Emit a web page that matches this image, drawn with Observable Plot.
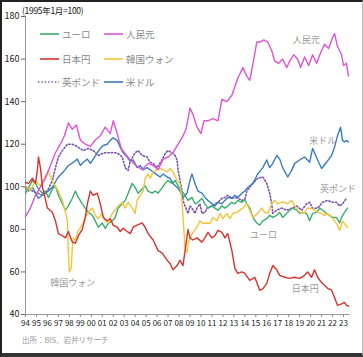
<!DOCTYPE html>
<html><head><meta charset="utf-8">
<script src="https://cdn.jsdelivr.net/npm/d3@7"></script>
<script src="https://cdn.jsdelivr.net/npm/@observablehq/plot@0.6"></script>
<style>
body{margin:0;background:#fff;font-family:"Noto Sans CJK JP","Noto Sans",sans-serif;}
#wrap{position:relative;width:363px;height:357px;overflow:hidden;background:#fff;}
#wrap svg.plot{position:absolute;left:0;top:0;}
.frame{position:absolute;left:0;top:0;width:363px;height:357px;box-sizing:border-box;border-left:2px solid #222;border-top:2px solid #222;border-bottom:4px solid #333;border-right:1px solid #bbb;pointer-events:none;}
.title{position:absolute;left:22px;top:4px;font-size:8.5px;color:#111;letter-spacing:-0.3px;}
.caption{position:absolute;left:22px;top:334px;font-size:7.5px;color:#999;}
.leg{position:absolute;left:0;top:0;pointer-events:none;}
</style></head>
<body>
<div id="wrap">
  <div class="title">(1995年1月=100)</div>
  <div class="caption">出所：BIS、岩井リサーチ</div>
</div>
<script>
// ---- data (decimal year, index 1995/1=100) ----
const euro = [[1994.00,97],[1994.27,99.5],[1994.64,103],[1994.91,101.6],[1995.18,99],[1995.55,97],[1995.82,98],[1996.09,95],[1996.45,99],[1996.73,100.5],[1997.00,96],[1997.36,92],[1997.64,89],[1997.91,91],[1998.27,94.6],[1998.55,98],[1998.82,95],[1999.18,92],[1999.45,90],[1999.73,88],[2000.09,86.6],[2000.36,84],[2000.64,81],[2001.00,83],[2001.27,80.5],[2001.55,82.8],[2001.91,84],[2002.18,85.6],[2002.45,90],[2002.82,92],[2003.09,93.6],[2003.36,97],[2003.73,101.6],[2004.00,99.7],[2004.27,97],[2004.64,99],[2004.91,100.5],[2005.18,98],[2005.55,97],[2005.82,98],[2006.09,97],[2006.45,99.5],[2006.73,101.6],[2007.00,103],[2007.36,101.6],[2007.64,103],[2007.91,100.5],[2008.27,98],[2008.55,96],[2008.82,93.6],[2009.18,95],[2009.45,92],[2009.73,92.7],[2010.09,94.6],[2010.36,92],[2010.64,90],[2011.00,91],[2011.27,90],[2011.55,89],[2011.91,91],[2012.18,90],[2012.45,91],[2012.82,92.7],[2013.09,92],[2013.36,93.6],[2013.73,92.7],[2014.00,94],[2014.18,92],[2014.45,90],[2014.73,85.6],[2015.09,83],[2015.36,82],[2015.64,84],[2016.00,85],[2016.27,86.6],[2016.55,85.6],[2016.91,86.6],[2017.18,88],[2017.45,85.6],[2017.82,87.5],[2018.09,89],[2018.36,90],[2018.73,89],[2019.00,87.5],[2019.27,88],[2019.64,87.5],[2019.91,84],[2020.18,87.5],[2020.55,88],[2020.82,90],[2021.09,89],[2021.45,87.5],[2021.73,86.6],[2022.00,85.6],[2022.36,85.6],[2022.64,83],[2022.82,85.6],[2023.09,88],[2023.36,90]];
const cny = [[1994.00,86],[1994.45,90],[1994.91,96],[1995.36,100],[1995.82,104],[1996.27,110],[1996.73,116],[1997.18,120],[1997.55,124],[1997.91,130],[1998.27,127],[1998.64,129],[1999.00,122],[1999.45,120],[1999.91,119],[2000.36,122],[2000.82,124],[2001.27,128],[2001.73,125],[2002.00,131],[2002.36,125],[2002.73,118],[2003.18,115],[2003.64,112],[2004.09,110],[2004.64,108],[2005.18,111],[2005.64,110],[2006.09,108],[2006.55,113],[2007.00,114],[2007.45,116],[2007.91,120],[2008.27,123],[2008.64,127],[2009.00,137],[2009.27,134],[2009.64,128],[2010.00,125],[2010.27,131],[2010.64,131],[2011.09,132],[2011.55,131],[2011.91,141],[2012.36,140],[2012.82,143],[2013.36,151],[2013.82,156],[2014.18,152],[2014.45,150],[2014.82,160],[2015.09,168],[2015.36,168],[2015.73,169],[2016.09,168],[2016.45,164],[2016.73,159],[2017.09,158],[2017.45,160],[2017.82,156],[2018.09,159],[2018.45,162],[2018.82,160],[2019.09,156],[2019.45,161],[2019.82,157],[2020.18,162],[2020.55,158],[2020.91,163],[2021.27,167],[2021.64,165],[2022.00,170],[2022.18,172],[2022.45,166],[2022.82,162],[2023.00,157],[2023.27,158],[2023.45,152]];
const yen = [[1994.00,102],[1994.27,101.6],[1994.64,104],[1994.91,101.6],[1995.09,108],[1995.18,114],[1995.36,109],[1995.55,99.5],[1995.64,98],[1996.00,90],[1996.45,88],[1996.73,84],[1997.00,78],[1997.36,77],[1997.64,76],[1997.91,79],[1998.27,74],[1998.55,73.5],[1998.82,77],[1999.18,80],[1999.45,85.6],[1999.64,92],[1999.91,98],[2000.18,96],[2000.55,97],[2000.82,92],[2001.09,85.6],[2001.45,84],[2001.73,85],[2002.00,82],[2002.36,81],[2002.64,79],[2002.91,80.5],[2003.27,79],[2003.55,78],[2003.82,81],[2004.18,82],[2004.64,83],[2004.91,81],[2005.18,78],[2005.64,75],[2006.09,70],[2006.45,69],[2006.91,65.5],[2007.18,64],[2007.45,61],[2007.82,63],[2008.09,65.5],[2008.36,63],[2008.55,70],[2008.82,80],[2009.00,76],[2009.27,75],[2009.64,76],[2010.09,74],[2010.36,76],[2010.64,78.6],[2011.00,76],[2011.27,77],[2011.55,79.5],[2011.91,78.6],[2012.18,76],[2012.45,78],[2012.82,70],[2013.09,61.7],[2013.36,59.3],[2013.73,60],[2014.00,59.3],[2014.45,56],[2014.91,57.5],[2015.36,51.4],[2015.64,52],[2016.00,54.6],[2016.27,59.3],[2016.55,63],[2016.91,61],[2017.18,58.4],[2017.64,57.5],[2018.09,57],[2018.55,57.5],[2019.00,57],[2019.45,58.4],[2019.73,60],[2020.09,57.5],[2020.36,61],[2020.64,57.5],[2021.00,55],[2021.27,53.7],[2021.55,52.3],[2021.91,51.4],[2022.18,48],[2022.45,44.3],[2022.82,45],[2023.09,45.7],[2023.27,44.3],[2023.45,44]];
const won = [[1994.00,100.5],[1994.45,98],[1994.91,103],[1995.36,100.5],[1995.82,105],[1996.09,107.7],[1996.27,105],[1996.55,101.6],[1997.00,98],[1997.36,93.6],[1997.64,88],[1997.82,84],[1997.91,69],[1998.00,60],[1998.18,62],[1998.27,71.5],[1998.36,76],[1998.55,75],[1998.82,79.5],[1999.18,82],[1999.45,85.6],[1999.73,88],[2000.09,90],[2000.36,86.6],[2000.64,85],[2001.00,87.5],[2001.27,84],[2001.55,83],[2001.91,87.5],[2002.18,89],[2002.45,91],[2002.82,92.7],[2003.09,90],[2003.36,92.7],[2003.73,90],[2004.00,87.5],[2004.18,93.6],[2004.45,96],[2004.73,98],[2004.91,104],[2005.18,106],[2005.36,104],[2005.64,107],[2006.00,108],[2006.27,108.6],[2006.55,108],[2006.91,107],[2007.18,108.6],[2007.45,107],[2007.82,103],[2008.09,101.6],[2008.27,93.6],[2008.36,86],[2008.55,71.5],[2008.73,69],[2008.82,73.5],[2009.00,76],[2009.27,78.6],[2009.64,81],[2009.91,84],[2010.18,82.8],[2010.55,83],[2010.82,82.8],[2011.09,85.6],[2011.45,84],[2011.73,87.5],[2012.00,85],[2012.36,87.5],[2012.64,85],[2012.91,87.5],[2013.27,88],[2013.55,89],[2013.82,90],[2014.18,92],[2014.45,89],[2014.73,85.6],[2015.18,87.5],[2015.55,90],[2015.82,88],[2016.09,87.5],[2016.45,92],[2016.73,93.6],[2017.00,92],[2017.36,92.7],[2017.64,92.7],[2017.91,92],[2018.27,93.6],[2018.55,91],[2018.82,89],[2019.18,87.5],[2019.45,88],[2019.73,90],[2020.09,89.9],[2020.36,89],[2020.64,88],[2021.00,87.5],[2021.27,86.6],[2021.55,87.5],[2021.91,85.6],[2022.18,84],[2022.45,82],[2022.64,79.5],[2022.82,82],[2022.91,84],[2023.18,82],[2023.36,81]];
const gbp = [[1994.00,99.7],[1994.64,98],[1995.09,97],[1995.55,96],[1995.82,97],[1996.09,99],[1996.45,103],[1996.73,109],[1997.00,114],[1997.36,117],[1997.82,120],[1998.27,120],[1998.55,119.4],[1998.82,118.5],[1999.27,117],[1999.73,118],[2000.18,117],[2000.64,114.7],[2001.00,115.6],[2001.27,116],[2001.55,116],[2001.91,116],[2002.18,116],[2002.45,115.6],[2002.82,114],[2003.09,109],[2003.36,107.7],[2003.55,112],[2004.00,116],[2004.27,117],[2004.64,114.7],[2005.09,114],[2005.36,111.5],[2005.64,111],[2006.00,109],[2006.45,112.6],[2006.73,115.6],[2007.00,117],[2007.36,116],[2007.64,114.7],[2007.82,112.6],[2007.91,108],[2008.09,103],[2008.27,98],[2008.36,93.6],[2008.55,91],[2008.82,87.5],[2009.00,91],[2009.18,90],[2009.45,87.5],[2009.64,90],[2009.91,92],[2010.09,87.5],[2010.36,88],[2010.55,89.9],[2011.00,91],[2011.27,92],[2011.55,92.7],[2011.91,94.6],[2012.18,95],[2012.45,96],[2012.82,94.6],[2013.09,95],[2013.36,94.6],[2013.73,93.6],[2014.00,94],[2014.18,98],[2014.73,101.6],[2015.18,104],[2015.64,104.6],[2016.00,101.6],[2016.27,97],[2016.45,92],[2016.55,87.5],[2016.91,89],[2017.36,90],[2017.82,89],[2018.27,89.9],[2018.73,91],[2019.18,89],[2019.64,92],[2019.91,92.7],[2020.18,89.9],[2020.64,90],[2021.09,92.7],[2021.55,93.6],[2022.00,92.7],[2022.36,92.7],[2022.64,91],[2022.91,92],[2023.27,94.6]];
const usd = [[1994.00,100.5],[1994.27,98],[1994.64,99.7],[1994.91,97],[1995.18,94.6],[1995.55,96],[1995.82,97],[1996.09,98],[1996.55,100.5],[1996.91,104],[1997.18,105.6],[1997.45,107],[1997.91,110],[1998.36,111.5],[1998.73,113],[1999.00,110],[1999.27,111.5],[1999.64,113],[1999.91,111],[2000.18,113],[2000.55,116],[2000.82,118],[2001.09,119.4],[2001.45,120],[2001.73,121.8],[2002.00,123],[2002.36,121.8],[2002.64,118.5],[2002.91,116],[2003.27,114],[2003.55,112],[2003.82,112.6],[2004.18,109],[2004.45,110],[2004.73,108],[2005.09,109],[2005.36,108],[2005.64,107],[2006.00,105.6],[2006.27,104.6],[2006.55,106],[2006.91,104.6],[2007.18,104],[2007.45,101.6],[2007.82,99.7],[2008.09,98],[2008.36,95],[2008.73,97],[2009.00,103],[2009.18,106],[2009.45,101.6],[2009.73,98],[2010.09,97],[2010.36,95],[2010.64,93.6],[2011.00,92],[2011.27,91],[2011.55,92.7],[2011.91,92],[2012.18,93.6],[2012.45,95],[2012.82,94.6],[2013.09,96],[2013.36,95],[2013.73,97],[2014.00,98],[2014.27,99.7],[2014.73,101.6],[2015.18,106],[2015.64,109],[2016.00,112.6],[2016.27,109],[2016.55,111],[2016.91,114.7],[2017.18,113],[2017.45,109],[2017.91,104.6],[2018.27,107.7],[2018.55,111],[2019.00,112.6],[2019.45,114],[2019.91,111.5],[2020.18,118],[2020.64,112.6],[2021.00,108.6],[2021.45,111.5],[2021.91,114.7],[2022.18,118.5],[2022.45,124],[2022.73,128],[2022.91,121.8],[2023.09,121],[2023.27,121.8],[2023.45,121]];

const seriesNames = ["ユーロ","人民元","日本円","韓国ウォン","英ポンド","米ドル"];
const seriesData = [euro, cny, yen, won, gbp, usd];
const seriesColors = ["#3aae6e","#e052d8","#d8322e","#f4c53c","#7b52b0","#3a7cc0"];

const xTickYears = d3.range(1994, 2024);
const yTicks = [40, 60, 80, 100, 120, 140, 160, 180];

const annoNames = ["人民元","米ドル","英ポンド","ユーロ","日本円","韓国ウォン"];
const annoT = [2019.6, 2021.1, 2022.5, 2015.7, 2019.5, 1998.3];
const annoV = [168.7, 121.3, 98.8, 77.2, 52, 54.6];

// ---- build ----
const rows = [];
seriesData.forEach((arr, i) => arr.forEach(([t, v]) => rows.push({s: seriesNames[i], t, v})));
const annos = annoNames.map((n, i) => ({n, t: annoT[i], v: annoV[i]}));

const drawOrder = ["英ポンド","米ドル","ユーロ","韓国ウォン","人民元","日本円"];
const lineMarks = drawOrder.map(name => {
  const i = seriesNames.indexOf(name);
  return Plot.line(rows.filter(r => r.s === name), {
    x: "t", y: "v", stroke: seriesColors[i],
    strokeWidth: name === "英ポンド" ? 1.6 : 1.4,
    strokeDasharray: name === "英ポンド" ? "1.4 2" : null,
    strokeLinejoin: "round"
  });
});

const chart = Plot.plot({
  width: 363, height: 333,
  marginLeft: 25, marginRight: 13.4, marginTop: 16, marginBottom: 19,
  style: {background: "transparent", color: "#222", fontFamily: "'Noto Sans CJK JP','Noto Sans',sans-serif"},
  x: {domain: [1994, 2023.6]},
  y: {domain: [40, 180]},
  marks: [
    Plot.axisY({ticks: yTicks, tickSize: 4, tickPadding: 2, fontSize: 9, label: null, stroke: "#666"}),
    Plot.axisX({ticks: xTickYears, tickFormat: d => String(d % 100).padStart(2, "0"), tickSize: 3, tickPadding: 3, fontSize: 8, label: null, stroke: "#888"}),
    Plot.ruleX([1994], {stroke: "#999"}),
    Plot.ruleY([40], {stroke: "#999"}),
    ...lineMarks,
    Plot.text(annos, {x: "t", y: "v", text: "n", fill: "#999", fontSize: 9})
  ]
});
chart.classList.add("plot");
const wrap = document.getElementById("wrap");
wrap.insertBefore(chart, wrap.firstChild);

// legend overlay
const legPos = [[40, 34], [104, 34], [40, 59], [104, 59], [40, 82], [104, 82]];
const leg = d3.select(wrap).append("svg").attr("class", "leg").attr("width", 363).attr("height", 120);
seriesNames.forEach((n, i) => {
  const [lx, ly] = legPos[i];
  leg.append("line").attr("x1", lx - (n === "英ポンド" ? 2 : 0)).attr("x2", lx + 19).attr("y1", ly).attr("y2", ly)
    .attr("stroke", seriesColors[i]).attr("stroke-width", n === "英ポンド" ? 1.6 : 1.6)
    .attr("stroke-dasharray", n === "英ポンド" ? "1.4 2" : null);
  leg.append("text").attr("x", lx + 22).attr("y", ly + 3.5).attr("font-size", 9.5).attr("fill", "#888")
    .attr("font-family", "'Noto Sans CJK JP',sans-serif").text(n);
});
d3.select(wrap).append("div").attr("class", "frame");
</script>
</body></html>
